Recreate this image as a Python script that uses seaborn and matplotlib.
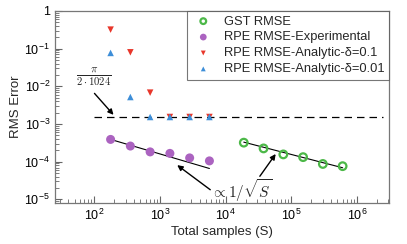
import numpy as np
import pandas as pd
import matplotlib
matplotlib.use("Agg")
import matplotlib.pyplot as plt
import seaborn as sns
from matplotlib.ticker import LogLocator, FuncFormatter, NullFormatter

# Data
gst_x = [18800, 37600, 75200, 150400, 300800, 601600]
gst_y = [3.2e-4, 2.25e-4, 1.56e-4, 1.32e-4, 8.7e-5, 7.6e-5]

exp_x = [176, 352, 704, 1408, 2816, 5632]
exp_y = [3.9e-4, 2.6e-4, 1.82e-4, 1.66e-4, 1.26e-4, 1.05e-4]

rpe01_x = [176, 352, 704, 1408, 2816, 5632]
rpe01_y = [0.32, 0.08, 6.8e-3, 1.534e-3, 1.534e-3, 1.534e-3]

rpe001_x = [176, 352, 704, 1408, 2816, 5632]
rpe001_y = [0.077, 5.2e-3, 1.534e-3, 1.534e-3, 1.534e-3, 1.534e-3]

# 1/sqrt(S) guide lines (end points)
fit_exp_x = [176, 5632]
fit_exp_y = [3.9e-4, 6.6e-5]
fit_gst_x = [18800, 601600]
fit_gst_y = [3.3e-4, 6.9e-5]

bound = np.pi / (2 * 1024)
bound_x = [100, 2.5e6]

C_GST = "#4cb848"
C_EXP = "#ab63c0"
C_RED = "#e8372b"
C_BLUE = "#3d8ed8"

sns.set_style("ticks")
plt.rcParams["font.family"] = ["Liberation Sans", "DejaVu Sans"]
plt.rcParams["mathtext.fontset"] = "custom"
plt.rcParams["mathtext.rm"] = "Liberation Sans"
plt.rcParams["mathtext.it"] = "Liberation Sans:italic"
plt.rcParams["mathtext.bf"] = "Liberation Sans:bold"

fig = plt.figure(figsize=(4.07, 2.44), dpi=100)
ax = fig.add_axes([0.135, 0.168, 0.821, 0.787])

df_gst = pd.DataFrame({"x": gst_x, "y": gst_y})
df_exp = pd.DataFrame({"x": exp_x, "y": exp_y})
df_r1 = pd.DataFrame({"x": rpe01_x, "y": rpe01_y})
df_r2 = pd.DataFrame({"x": rpe001_x, "y": rpe001_y})

ax.plot(bound_x, [bound, bound], color="black", lw=0.9, dashes=(6, 4), zorder=1)
ax.plot(fit_exp_x, fit_exp_y, color="black", lw=0.8, zorder=1)
ax.plot(fit_gst_x, fit_gst_y, color="black", lw=0.8, zorder=1)

sns.scatterplot(data=df_gst, x="x", y="y", ax=ax, marker="o", s=30,
                facecolor="none", edgecolor=C_GST, linewidth=1.6,
                label="GST RMSE", zorder=3)
sns.scatterplot(data=df_exp, x="x", y="y", ax=ax, marker="o", s=42,
                color=C_EXP, edgecolor="none", label="RPE RMSE-Experimental", zorder=3)
sns.scatterplot(data=df_r1, x="x", y="y", ax=ax, marker="v", s=22,
                color=C_RED, edgecolor="none", label="RPE RMSE-Analytic-δ=0.1", zorder=3)
sns.scatterplot(data=df_r2, x="x", y="y", ax=ax, marker="^", s=22,
                color=C_BLUE, edgecolor="none", label="RPE RMSE-Analytic-δ=0.01", zorder=4)

ax.set_xscale("log")
ax.set_yscale("log")
ax.set_xlim(25, 3.07e6)
ax.set_ylim(8e-6, 1)


def log_fmt(v, pos):
    e = int(round(np.log10(v)))
    if e == 0:
        return "1"
    return r"$10^{%d}$" % e


ax.xaxis.set_major_locator(LogLocator(base=10, numticks=12))
ax.yaxis.set_major_locator(LogLocator(base=10, numticks=12))
ax.xaxis.set_minor_locator(LogLocator(base=10, subs=np.arange(2, 10), numticks=12))
ax.yaxis.set_minor_locator(LogLocator(base=10, subs=np.arange(2, 10), numticks=12))
ax.xaxis.set_major_formatter(FuncFormatter(log_fmt))
ax.yaxis.set_major_formatter(FuncFormatter(log_fmt))
ax.xaxis.set_minor_formatter(NullFormatter())
ax.yaxis.set_minor_formatter(NullFormatter())

ax.tick_params(which="both", direction="in", colors="#666666", labelcolor="black",
               labelsize=9, top=False, right=False)
ax.tick_params(which="major", length=5, width=0.8)
ax.tick_params(which="minor", length=3, width=0.6)
for sp in ax.spines.values():
    sp.set_color("#777777")
    sp.set_linewidth(0.9)

ax.set_xlabel("Total samples (S)", fontsize=9.5, labelpad=2)
ax.set_ylabel("RMS Error", fontsize=9.5, labelpad=2)

leg = ax.legend(loc="upper right", fontsize=9.3, frameon=True, fancybox=False,
                borderaxespad=0, handletextpad=0.7, labelspacing=0.3,
                borderpad=0.35, handlelength=1.8, markerscale=0.75)
leg.get_frame().set_edgecolor("#555555")
leg.get_frame().set_linewidth(0.8)

# annotations
ax.text(97, 1.7e-2, r"$\frac{\pi}{2\cdot 1024}$", fontsize=11, ha="center",
        va="center", math_fontfamily="cm")
ax.annotate("", xy=(195, 1.75e-3), xytext=(100, 6.5e-3),
            arrowprops=dict(arrowstyle="-|>", color="black", lw=1.0,
                            mutation_scale=8, shrinkA=0, shrinkB=0))

ax.text(6000, 1.7e-5, r"$\propto 1/\sqrt{S}$", fontsize=11, ha="left",
        va="center", math_fontfamily="cm")
ax.annotate("", xy=(1820, 8.1e-5), xytext=(5800, 1.8e-5),
            arrowprops=dict(arrowstyle="-|>", color="black", lw=1.0,
                            mutation_scale=8, shrinkA=0, shrinkB=0))
ax.annotate("", xy=(57500, 1.6e-4), xytext=(33000, 4.1e-5),
            arrowprops=dict(arrowstyle="-|>", color="black", lw=1.0,
                            mutation_scale=8, shrinkA=0, shrinkB=0))

fig.savefig("out.png", dpi=100)
